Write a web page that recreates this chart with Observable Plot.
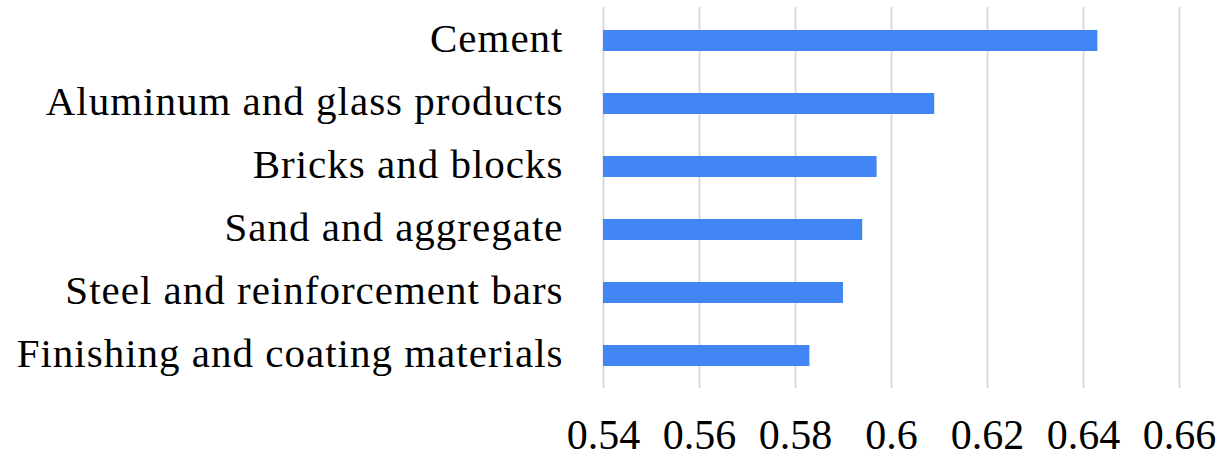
<!DOCTYPE html>
<html>
<head>
<meta charset="utf-8">
<script src="https://cdn.jsdelivr.net/npm/d3@7"></script>
<script src="https://cdn.jsdelivr.net/npm/@observablehq/plot@0.6"></script>
<style>
  html, body { margin: 0; padding: 0; background: #fff; }
  #chart svg { display: block; }
  #chart .ylab text { letter-spacing: 1px; }
</style>
</head>
<body>
<div id="chart"></div>
<script>
const categories = [
  "Cement",
  "Aluminum and glass products",
  "Bricks and blocks",
  "Sand and aggregate",
  "Steel and reinforcement bars",
  "Finishing and coating materials"
];
const values = [0.643, 0.609, 0.597, 0.594, 0.590, 0.583];
const xTicks = [0.54, 0.56, 0.58, 0.60, 0.62, 0.64, 0.66];
const xTickLabels = ["0.54", "0.56", "0.58", "0.6", "0.62", "0.64", "0.66"];
const xMin = 0.54, xMax = 0.66;

const data = categories.map((c, i) => ({category: c, value: values[i]}));
const font = "'Liberation Serif', 'Times New Roman', serif";

const chart = Plot.plot({
  width: 1226,
  height: 458,
  marginLeft: 603,
  marginRight: 47,
  marginTop: 7,
  marginBottom: 70,
  style: {fontFamily: font, background: "#fff", color: "#000"},
  x: {domain: [xMin, xMax]},
  y: {domain: categories, paddingInner: 0.67, paddingOuter: 0.35, align: 0.5},
  marks: [
    Plot.ruleX(xTicks, {stroke: "#d9d9d9", strokeWidth: 2}),
    Plot.barX(data, {x1: xMin, x2: "value", y: "category", fill: "#4285F4"}),
    Plot.axisX({
      ticks: xTicks,
      tickFormat: (d, i) => xTickLabels[i],
      tickSize: 0,
      tickPadding: 31,
      fontSize: 42,
      fontFamily: font,
      fill: "#000",
      label: null
    }),
    Plot.axisY({
      tickSize: 0,
      tickPadding: 40,
      fontSize: 41,
      fontFamily: font,
      fill: "#000",
      dy: -2,
      className: "ylab",
      label: null
    })
  ]
});
document.getElementById("chart").appendChild(chart);
</script>
</body>
</html>
